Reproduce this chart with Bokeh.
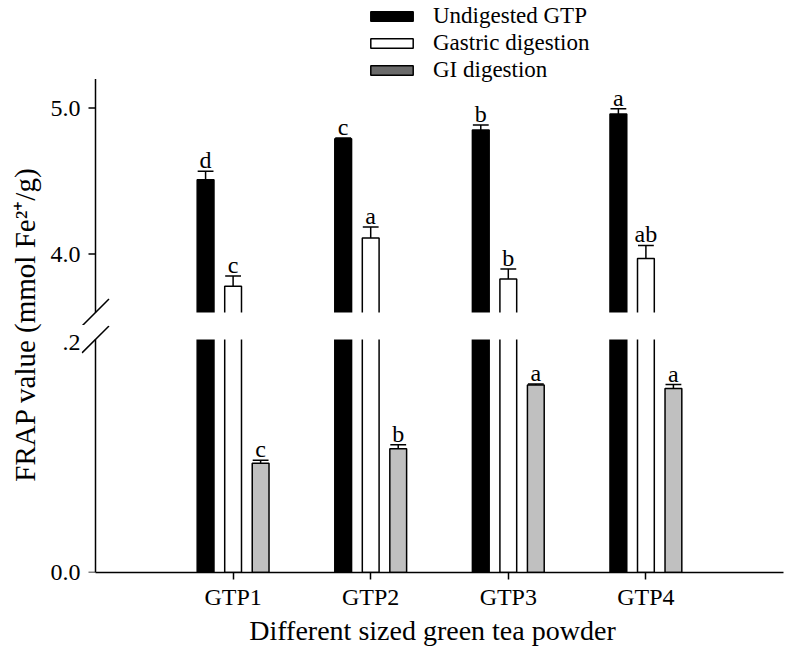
import numpy as np
from bokeh.plotting import figure
from bokeh.layouts import row, column
from bokeh.models import (Range1d, FixedTicker, Legend, LegendItem, Label,
                          NumeralTickFormatter)
from bokeh.core.properties import value
from bokeh.embed import file_html
from bokeh.resources import INLINE

# ---------------- data ----------------
categories = ["GTP1", "GTP2", "GTP3", "GTP4"]
series_names = ["Undigested GTP", "Gastric digestion", "GI digestion"]
undigested = [4.51, 4.79, 4.85, 4.96]
undigested_err = [0.057, 0.006, 0.034, 0.036]
gastric = [3.78, 4.11, 3.83, 3.97]
gastric_err = [0.070, 0.075, 0.068, 0.089]
gi = [0.095, 0.1075, 0.163, 0.160]
gi_err = [0.0025, 0.0035, 0.0008, 0.0034]
undigested_letters = ["d", "c", "b", "a"]
gastric_letters = ["c", "a", "b", "ab"]
gi_letters = ["c", "b", "a", "a"]
upper_ticks = [4.0, 5.0]
lower_ticks = [0.0, 0.2]
lower_tick_labels = ["0.0", ".2"]
y_label = "FRAP value (mmol Fe\u00b2\u207a/g)"
x_label = "Different sized green tea powder"

# ---------------- style / geometry ----------------
FONT = "Liberation Serif"
pos = np.arange(1, len(categories) + 1)
OFFS = [-0.2, 0.0, 0.2]
BAR_W = 0.122
CAP_W = 0.115
FILLS = ["black", "white", "#c0c0c0"]
LEGEND_GI_FILL = "#6b6b6b"
LW = 1.5

PX_X = 137.6                      # px per x unit
UP_PX, LO_PX = 146.0, 1155.0      # px per y unit in upper / lower panel
UP_RANGE = (3.6 - 13 / UP_PX, 3.6 + 312 / UP_PX)
LO_RANGE = (0.0, 248 / LO_PX)
UP_AXIS = (3.6, 5.2)              # drawn extent of the upper y-axis
LO_AXIS = (0.0, 0.2026)           # drawn extent of the lower y-axis
X0 = -14 / PX_X
x_range = Range1d(X0, 5)
TICK = 7 / PX_X
SL = 13.5                         # half size (px) of the break slashes
OVER = 4                          # px a broken bar runs into the white gap band


def style_axis(ax):
    ax.axis_line_width = LW
    ax.axis_line_color = "black"
    ax.major_tick_line_width = LW
    ax.major_tick_line_color = "black"
    ax.major_tick_in = 0
    ax.major_tick_out = 7
    ax.minor_tick_in = 0
    ax.minor_tick_out = 0
    ax.major_label_text_font = FONT
    ax.major_label_text_font_size = "24px"
    ax.major_label_text_color = "black"
    ax.axis_label_text_font = FONT
    ax.axis_label_text_font_style = "normal"
    ax.axis_label_text_font_size = "28px"
    ax.axis_label_text_color = "black"


def style_yaxis(ax, ticks):
    style_axis(ax)
    ax.ticker = FixedTicker(ticks=ticks)
    ax.axis_line_color = None
    ax.major_tick_out = 0
    ax.major_label_standoff = 1


def draw_axis_line(p, extent, ticks):
    # y-axis line and outward ticks, drawn a little inside the frame so the
    # break slashes can cross it
    p.segment(x0=[0], y0=[extent[0]], x1=[0], y1=[extent[1]], line_color="black", line_width=LW)
    p.segment(x0=-TICK, y0=ticks, x1=0, y1=ticks, line_color="black", line_width=LW)


def break_mark(p, y_center, px_per_y):
    p.segment(x0=[-SL / PX_X], y0=[y_center - SL / px_per_y],
              x1=[SL / PX_X], y1=[y_center + SL / px_per_y],
              line_color="black", line_width=LW)


def gap_band(p, y0, y1):
    # white band that opens the bars at the axis break (reaches past the frame edge)
    p.quad(left=[x_range.start - 1], right=[x_range.end + 1], bottom=[y0], top=[y1],
           fill_color="white", line_color=None)


def errors_and_letters(p, xs, vals, errs, letters):
    tops = [v + e for v, e in zip(vals, errs)]
    p.segment(x0=xs, y0=vals, x1=xs, y1=tops, line_color="black", line_width=LW)
    p.segment(x0=xs - CAP_W / 2, y0=tops, x1=xs + CAP_W / 2, y1=tops,
              line_color="black", line_width=LW)
    p.text(x=xs, y=tops, text=letters, text_align="center",
           text_baseline="alphabetic", y_offset=-11,
           text_font=value(FONT), text_font_size="24px", text_color="black")


def bars(p, xs, tops, fill, bottom=0.0):
    return p.vbar(x=xs, bottom=bottom, top=tops, width=BAR_W, fill_color=fill,
                  line_color="black", line_width=LW)


# ---------------- upper panel ----------------
up = figure(width=741, height=325, x_range=x_range, y_range=Range1d(*UP_RANGE),
            x_axis_location=None, output_backend="svg", toolbar_location=None,
            min_border_left=36, min_border_right=3, min_border_top=0,
            min_border_bottom=0)
up.grid.visible = False
up.outline_line_color = None
style_yaxis(up.yaxis[0], upper_ticks)
up.yaxis[0].formatter = NumeralTickFormatter(format="0.0")

up_bottom = UP_AXIS[0] - OVER / UP_PX
r_und = bars(up, pos + OFFS[0], undigested, FILLS[0], bottom=up_bottom)
r_gas = bars(up, pos + OFFS[1], gastric, FILLS[1], bottom=up_bottom)
r_gi = up.vbar(x=pos + OFFS[2], bottom=0, top=gi, width=BAR_W, fill_color=LEGEND_GI_FILL,
               line_color="black", line_width=LW, visible=False)  # legend swatch only
gap_band(up, UP_RANGE[0] - 1, UP_AXIS[0])
errors_and_letters(up, pos + OFFS[0], undigested, undigested_err, undigested_letters)
errors_and_letters(up, pos + OFFS[1], gastric, gastric_err, gastric_letters)
draw_axis_line(up, UP_AXIS, upper_ticks)
break_mark(up, UP_AXIS[0], UP_PX)

legend = Legend(items=[LegendItem(label=n, renderers=[r])
                       for n, r in zip(series_names, [r_und, r_gas, r_gi])],
                location=(284, 242), glyph_width=53, glyph_height=12,
                label_standoff=15, label_text_font=FONT, label_text_color="black",
                label_text_font_size="23px", label_height=19, spacing=1,
                padding=0, margin=0, border_line_color=None,
                background_fill_alpha=0, inactive_fill_alpha=0)
up.add_layout(legend)

# ---------------- lower panel ----------------
lo = figure(width=741, height=323, x_range=x_range, y_range=Range1d(*LO_RANGE),
            output_backend="svg", toolbar_location=None,
            min_border_left=36, min_border_right=3, min_border_top=0,
            min_border_bottom=75)
lo.grid.visible = False
lo.outline_line_color = None
style_yaxis(lo.yaxis[0], lower_ticks)
lo.yaxis[0].major_label_overrides = {t: l for t, l in zip(lower_ticks, lower_tick_labels)}
style_axis(lo.xaxis[0])
lo.xaxis[0].bounds = (0, 5)
lo.xaxis[0].ticker = FixedTicker(ticks=[int(p) for p in pos])
lo.xaxis[0].major_label_overrides = {int(p): c for p, c in zip(pos, categories)}
lo.xaxis[0].axis_label = x_label
lo.xaxis[0].major_label_standoff = 4
lo.xaxis[0].axis_label_standoff = 2

lo_cap = LO_AXIS[1] + OVER / LO_PX   # tall bars are cut just inside the gap band
bars(lo, pos + OFFS[0], np.minimum(undigested, lo_cap), FILLS[0])
bars(lo, pos + OFFS[1], np.minimum(gastric, lo_cap), FILLS[1])
bars(lo, pos + OFFS[2], gi, FILLS[2])
gap_band(lo, LO_AXIS[1], LO_RANGE[1] + 1)
errors_and_letters(lo, pos + OFFS[2], gi, gi_err, gi_letters)
draw_axis_line(lo, LO_AXIS, [lower_ticks[0]])
break_mark(lo, LO_AXIS[1], LO_PX)

# ---------------- y-label strip ----------------
lab = figure(width=45, height=648, x_axis_location=None, y_axis_location=None,
             output_backend="svg", toolbar_location=None, min_border_left=0,
             min_border_right=0, min_border_top=0, min_border_bottom=0)
lab.grid.visible = False
lab.outline_line_color = None
lab.add_layout(Label(x=24, y=324, x_units="screen", y_units="screen", text=y_label,
                     angle=np.pi / 2, text_align="center", text_baseline="alphabetic",
                     text_font=FONT, text_font_size="29px", text_color="black"))

layout = row(lab, column(up, lo))
open("out.html", "w").write(file_html(layout, INLINE))
